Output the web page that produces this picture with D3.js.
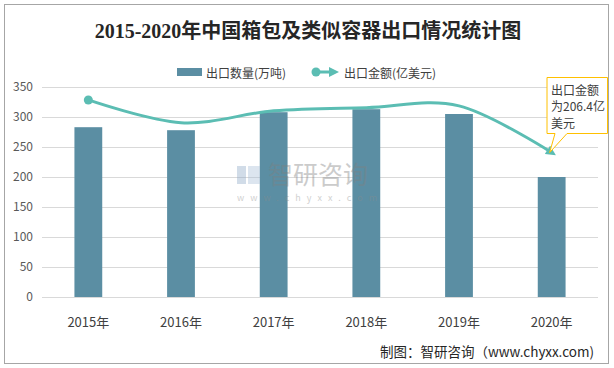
<!DOCTYPE html>
<html><head><meta charset="utf-8">
<script src="https://cdn.jsdelivr.net/npm/d3@7"></script>
<style>body{margin:0;background:#fff}svg{display:block}</style>
</head><body>
<svg id="c" width="614" height="368"></svg>
<script>
const years = ["2015年","2016年","2017年","2018年","2019年","2020年"];
const quantity = [283, 278, 308, 313, 305, 200];        // 出口数量(万吨)
const amount = [281.5, 249, 266, 270.5, 273, 206.4];     // 出口金额(亿美元)
const yTicks = [0, 50, 100, 150, 200, 250, 300, 350];

const svg = d3.select("#c");
const cjk = "'Noto Sans CJK SC', 'Noto Sans', sans-serif";
const L = 42, R = 598, T = 87, B = 297;

svg.append("rect").attr("x",4.5).attr("y",4.5).attr("width",604).attr("height",359)
  .attr("fill","#fff").attr("stroke","#a6a6a6").attr("stroke-width",1);

const x = d3.scaleBand().domain(years).range([L, R]).paddingInner(0.7).paddingOuter(0.35);
const y = d3.scaleLinear().domain([0, 350]).range([B, T]);
const y2 = d3.scaleLinear().domain([0, 300]).range([B, T]);

// grid
const yAxis = d3.axisLeft(y).tickValues(yTicks).tickSize(-(R - L)).tickPadding(9);
const ga = svg.append("g").attr("transform", `translate(${L},0)`).call(yAxis);
ga.select(".domain").remove();
ga.selectAll(".tick line").attr("stroke","#d9d9d9").attr("stroke-width",1);
ga.selectAll(".tick text").attr("fill","#595959").style("font-family", cjk).style("font-size","12px");

// bars
svg.append("g").selectAll("rect").data(quantity).join("rect")
  .attr("x",(d,i)=>x(years[i])).attr("width",x.bandwidth())
  .attr("y",d=>y(d)).attr("height",d=>y(0)-y(d)).attr("fill","#5b8ea3");

// watermark (drawn over the bars, semi-transparent)
const wm = svg.append("g").attr("opacity",0.4);
wm.append("rect").attr("x",237).attr("y",166).attr("width",9).attr("height",18).attr("fill","#8ea9c8");
wm.append("rect").attr("x",248).attr("y",166).attr("width",12).attr("height",18).attr("fill","#a9bfd8");
wm.append("text").attr("x",268).attr("y",184).text("智研咨询")
  .attr("fill","#808080").style("font-family",cjk).style("font-size","25px");
wm.append("text").attr("x",237).attr("y",201).text("www.chyxx.com")
  .attr("fill","#8c8c8c").style("font-family",cjk).style("font-size","9px").attr("textLength",140);

// x labels
svg.append("g").selectAll("text").data(years).join("text")
  .attr("x",d=>x(d)+x.bandwidth()/2).attr("y",321).attr("text-anchor","middle")
  .attr("dominant-baseline","central").attr("fill","#404040")
  .style("font-family",cjk).style("font-size","13px").text(d=>d);

// line
const defs = svg.append("defs");
defs.append("marker").attr("id","arr").attr("markerUnits","userSpaceOnUse")
  .attr("viewBox","0 0 10 10").attr("refX",5).attr("refY",5)
  .attr("markerWidth",11).attr("markerHeight",10).attr("orient","auto")
  .append("path").attr("d","M0,0 L10,5 L0,10 Z").attr("fill","#5bbdb3");

const line = d3.line().x((d,i)=>x(years[i])+x.bandwidth()/2).y(d=>y2(d)).curve(d3.curveCardinal.tension(0));
svg.append("path").datum(amount).attr("d",line).attr("fill","none")
  .attr("stroke","#5bbdb3").attr("stroke-width",3).attr("marker-end","url(#arr)");
svg.append("circle").attr("cx",x(years[0])+x.bandwidth()/2).attr("cy",y2(amount[0])).attr("r",4.5).attr("fill","#5bbdb3");

// callout
const px = x(years[5])+x.bandwidth()/2 - 2, py = y2(amount[5]);
svg.append("path").attr("d",`M547,77.5 H607.5 V133.5 H567 L${px},${py} L555,133.5 H547 Z`)
  .attr("fill","#fff").attr("stroke","#ffc000").attr("stroke-width",1);
const ct = ["出口金额", "为" + amount[5] + "亿", "美元"];
svg.append("g").selectAll("text").data(ct).join("text")
  .attr("x",551).attr("y",(d,i)=>89+i*16.5).attr("dominant-baseline","central")
  .attr("fill","#404040").style("font-family",cjk).style("font-size","12px").text(d=>d);

// title
svg.append("text").attr("x",308).attr("y",31).attr("text-anchor","middle").attr("dominant-baseline","central")
  .attr("fill","#262626").style("font-family","'Liberation Serif', 'Noto Sans CJK SC', serif")
  .style("font-size","20px").style("font-weight","bold").text("2015-2020年中国箱包及类似容器出口情况统计图");

// legend
const lg = svg.append("g");
lg.append("rect").attr("x",177).attr("y",68).attr("width",25).attr("height",8).attr("fill","#5b8ea3");
lg.append("text").attr("x",206).attr("y",72).attr("dominant-baseline","central").attr("fill","#404040")
  .style("font-family",cjk).style("font-size","12px").text("出口数量(万吨)");
lg.append("line").attr("x1",316).attr("x2",334).attr("y1",72).attr("y2",72)
  .attr("stroke","#5bbdb3").attr("stroke-width",3).attr("marker-end","url(#arr)");
lg.append("circle").attr("cx",316).attr("cy",72).attr("r",4.5).attr("fill","#5bbdb3");
lg.append("text").attr("x",344).attr("y",72).attr("dominant-baseline","central").attr("fill","#404040")
  .style("font-family",cjk).style("font-size","12px").text("出口金额(亿美元)");

// source
svg.append("text").attr("x",594).attr("y",351).attr("text-anchor","end").attr("dominant-baseline","central")
  .attr("fill","#262626").style("font-family",cjk).style("font-size","13.5px").text("制图：智研咨询（www.chyxx.com)");
</script>
</body></html>
